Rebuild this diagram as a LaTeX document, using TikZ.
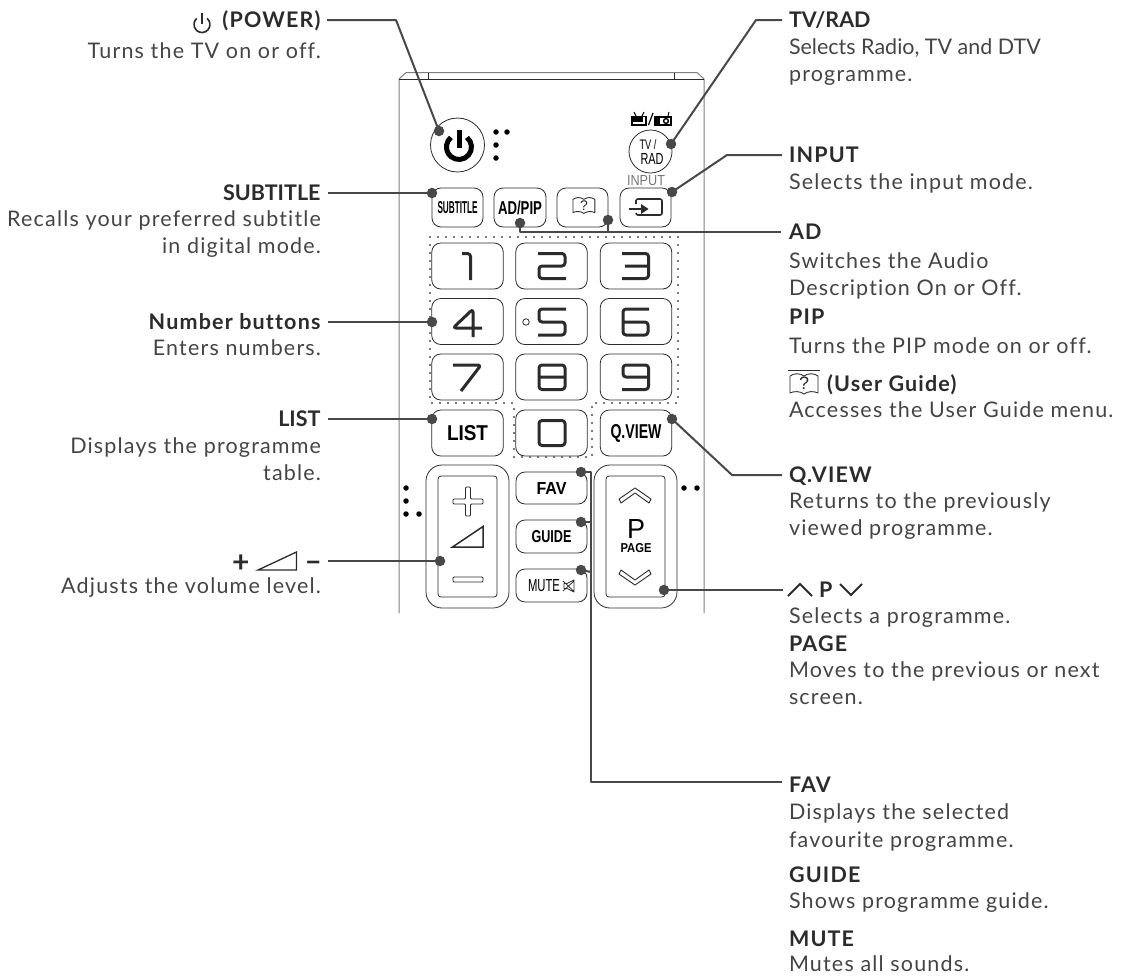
\documentclass[tikz,border=0pt]{standalone}
\usepackage{fontspec}
\setmainfont{Lato}[LetterSpace=5.5,Ligatures=NoCommon]
\newfontfamily\keyf{Liberation Sans}
\definecolor{ink}{HTML}{2B2B2B}
\definecolor{txt}{HTML}{444444}
\definecolor{lead}{HTML}{484848}
\definecolor{bodyl}{HTML}{808080}
\definecolor{inp}{HTML}{777777}
\newcommand{\kb}[3]{\resizebox{#1pt}{#2pt}{\keyf\bfseries #3}}
\newcommand{\kr}[3]{\resizebox{#1pt}{#2pt}{\keyf #3}}
\newcommand{\tight}{\addfontfeature{LetterSpace=0}}
\newcommand{\bookat}[5]{\begin{scope}[shift={(#1,#2)},scale=#3]
 \draw[line width=.9pt,ink,line join=round] (0,3)..controls (4,0) and (10,0)..(14,3)..controls (18,0) and (24,0)..(28,3)--(28,20)..controls (24,18) and (18,18)..(14,21)..controls (10,18) and (4,18)..(0,20)--cycle;
 \node[font=\fontsize{#4}{#4}\selectfont\keyf,text=ink] (#5) at (14,10.5) {?};
 \end{scope}}
\begin{document}
\begin{tikzpicture}[x=1pt,y=-1pt,
 every node/.style={inner sep=0,outer sep=0},
 btn/.style={draw=ink,line width=.8pt,rounded corners=9pt},
 bodyline/.style={draw=bodyl,line width=1pt},
 thin body/.style={draw=ink,line width=.8pt},
 leader/.style={draw=lead,line width=2pt},
 pin/.style={circle,fill=lead,minimum size=10.5pt},
 blk/.style={circle,fill=black,minimum size=5.5pt},
 title/.style={anchor=base,font=\fontsize{21.5}{27}\selectfont\bfseries,text=ink},
 desc/.style={anchor=base,font=\fontsize{21.5}{27}\selectfont,text=txt},
 rgt/.style={anchor=base west},
 lft/.style={anchor=base east},
 digit/.style={draw=ink,line width=3pt,line join=round,rounded corners=3pt},
 dotb/.style={draw=ink!85,line width=2.4pt,line cap=round,dash pattern=on 0pt off 8pt},
 numkey/.style={btn,minimum width=71.5pt,minimum height=46pt},
 outerkey/.style={btn,rounded corners=16pt,minimum width=83pt,minimum height=143pt},
 innerkey/.style={btn,rounded corners=3pt,minimum width=59pt,minimum height=121pt}]
\useasboundingbox (0,0) rectangle (1132,975);
% body of the remote
\draw[bodyline] (399,613)--(399,79)--(406,72.5)--(697,72.5)--(704,79)--(704,613);
\draw[thin body] (399,79)--(704,79) (428,73)--(428,80) (674,73)--(674,80);
% power
\node[circle,draw=ink,line width=.8pt,minimum size=54pt] (power) at (457.5,145) {};
\draw[line width=5pt,black] (467,137.4) arc[start angle=50,end angle=-230,radius=12.5pt];
\draw[line width=5pt,black] (459,130)--(459,148);
\foreach \n/\p in {a/{496,132},b/{507,132},c/{496,145},d/{496,158},e/{406,488},f/{406,501},g/{406,514},h/{419,514},i/{684,488},j/{697,488}}
  \node[blk] (k\n) at (\p) {};
% tv rad
\node[circle,draw=ink,line width=.8pt,minimum size=43pt] (tvrad) at (650.5,151.5) {};
\node (tvt) at (648,145) {\kr{17}{10}{TV /}};
\node (radt) at (652,159) {\kr{23}{11}{RAD}};
\draw[line width=1.9pt,black] (632,116.5) rectangle (646,125);
\fill[black] (632,116) rectangle (643,122);
\draw[line width=1pt,black] (636,116)--(634,112) (642,116)--(644,112);
\draw[line width=1.2pt,black] (648.5,125)--(653,113);
\draw[line width=1.9pt,black] (655,117) rectangle (671,125);
\fill[black] (655,117) rectangle (660,125);
\draw[line width=1.4pt,black] (666,121) circle[radius=2.4pt];
\draw[line width=1pt,black] (668,116)--(669,112);
% row of four
\node[btn,minimum width=51pt,minimum height=39pt] (subtitle) at (457.5,207.5) {\kb{40}{12}{SUBTITLE}};
\node[btn,minimum width=52pt,minimum height=39pt] (adpip) at (520,207.5) {\kb{44}{13.5}{AD/PIP}};
\node[btn,minimum width=51pt,minimum height=39pt] (guidebtn) at (582.5,207.5) {};
\bookat{573}{197}{.78}{14}{bookq}
\node[btn,minimum width=51pt,minimum height=39pt] (input) at (645.5,207.5) {};
\node (inputlab) at (646,181) {\resizebox{38pt}{10pt}{\keyf\textcolor{inp}{INPUT}}};
\draw[line width=1.6pt,ink,rounded corners=2pt] (636,204)--(636,199)--(662,199)--(662,215)--(636,215)--(636,213);
\draw[line width=2pt,ink] (629,209)--(642,209);
\fill[ink] (648.5,209)--(641,204)--(641,214)--cycle;
% digits
\foreach \n/\x/\y in {1/467.5/266,2/551.5/266,3/636/266,4/467.5/321.5,5/551.5/321.5,6/636/321.5,7/467.5/377,8/551.5/377,9/636/377}
  \node[numkey] (n\n) at (\x,\y) {};
\node[numkey] (n0) at (551.5,433) {};
\node[numkey] (list) at (467.5,433) {\kb{41}{15}{LIST}};
\node[numkey] (qview) at (636,433) {\kb{51}{14}{Q.VIEW}};
\draw[digit] (462,253.5)--(470.5,253.5)--(470.5,280);
\draw[digit] (538,253.5)--(565,253.5)--(565,266)--(539,266)--(539,278.5)--(566,278.5);
\draw[digit] (622,253.5)--(648.5,253.5)--(648.5,278.5)--(622,278.5) (625,266)--(648.5,266);
\draw[digit] (473,337)--(473,309)--(453,328)--(482,328);
\draw[digit] (566,309)--(539,309)--(539,322)--(565,322)--(565,335)--(538,335);
\draw[digit] (649,309)--(623,309)--(623,335)--(648,335)--(648,322)--(623,322);
\draw[digit] (453,365)--(481,365)--(461,391);
\draw[digit] (539,365)--(565,365)--(565,389.5)--(539,389.5)--cycle (539,377)--(565,377);
\draw[digit] (649,377)--(623,377)--(623,365)--(648.5,365)--(648.5,389.5)--(622,389.5);
\draw[digit] (539,420.5)--(565,420.5)--(565,445.5)--(539,445.5)--cycle;
\node[circle,draw=ink,line width=.8pt,minimum size=6.5pt] (hole) at (526,322) {};
% dotted outline
\draw[dotb] (430,237)--(678,237)--(678,403)--(592,403)--(592,457)--(514,457)--(514,403)--(430,403)--cycle;
% volume
\node[outerkey] (volout) at (467.5,536.5) {};
\node[innerkey] (volin) at (467.5,536.5) {};
\draw[line width=.9pt,ink,rounded corners=1pt] (465.5,487)--(470.5,487)--(470.5,499)--(483,499)--(483,504)--(470.5,504)--(470.5,516)--(465.5,516)--(465.5,504)--(453,504)--(453,499)--(465.5,499)--cycle;
\draw[line width=1.5pt,ink,line join=miter] (452.5,547)--(483,547)--(483,526.5)--cycle;
\draw[line width=.9pt,ink,rounded corners=1pt] (453,577)--(483,577)--(483,582)--(453,582)--cycle;
% centre keys
\node[btn,minimum width=71pt,minimum height=32pt] (fav) at (551.5,488) {\kb{30}{12}{FAV}};
\node[btn,minimum width=71pt,minimum height=33pt] (guide) at (551.5,536.5) {\kb{40}{12}{GUIDE}};
\node[btn,minimum width=71pt,minimum height=33pt] (mute) at (551.5,585.5) {};
\node (mutelab) at (544,586) {\kr{32}{12}{MUTE}};
\draw[line width=.8pt,ink,line join=round] (564,583.5)--(567,583.5)--(574,580)--(574,592)--(567,588.5)--(564,588.5)--cycle (563,581)--(574,591.5) (563,591)--(574,581);
% programme
\node[outerkey] (prout) at (635.5,536.5) {};
\node[innerkey] (prin) at (635.5,536.5) {};
\draw[line width=.9pt,ink,line join=round] (619,499)--(635,488)--(651,499)--(649,503)--(635,493)--(621,503)--cycle;
\draw[line width=.9pt,ink,line join=round] (619,574)--(635,585)--(651,574)--(649,570)--(635,580)--(621,570)--cycle;
\node (plet) at (636,529) {\kr{18}{19}{P}};
\node (page) at (636,548) {\kb{31}{9}{PAGE}};
% pins
\foreach \n/\p in {power/{439,131},tv/{671,144},sub/{432,193},inp/{672,192},ad/{520,223},bk/{608,220},num/{432,322},lst/{432,419},qv/{672,419},vol/{440,561},pr/{664,590},fv/{581,472},gd/{581,522},mt/{581,570}}
  \node[pin] (p\n) at (\p) {};
% left labels
\node[title,lft] (Lpower) at (320.5,27) {(POWER)};
\draw[line width=1.6pt,ink] (207.1,18.4) arc[start angle=50,end angle=-230,radius=8pt];
\draw[line width=1.6pt,ink] (202,13)--(202,24);
\node[desc,lft] at (321,58) {Turns the TV on or off.};
\node[title,lft] (Lsub) at (320.5,200) {\tight SUBTITLE};
\node[desc,lft] at (321,226) {Recalls your preferred subtitle};
\node[desc,lft] at (321,253) {in digital mode.};
\node[title,lft] (Lnum) at (320.5,329) {Number buttons};
\node[desc,lft] at (321,355) {Enters numbers.};
\node[title,lft] (Llist) at (320.5,426) {\tight LIST};
\node[desc,lft] at (321,453) {Displays the programme};
\node[desc,lft] at (321,480) {table.};
\node[desc,lft] at (321,593) {Adjusts the volume level.};
\node[anchor=base east,font=\fontsize{30}{30}\selectfont\bfseries,text=ink] (Lminus) at (322,571) {–};
\draw[line width=1.3pt,ink] (258,570)--(296.5,570)--(296.5,552)--cycle;
\node[anchor=base east,font=\fontsize{30}{30}\selectfont\bfseries,text=ink] (Lplus) at (249.5,572) {+};
% right labels
\node[title,rgt] (Rtv) at (789,27) {\tight TV/RAD};
\node[desc,rgt] at (789,54) {\tight Selects Radio, TV and DTV};
\node[desc,rgt] at (789,81) {programme.};
\node[title,rgt] (Rinp) at (789,162) {INPUT};
\node[desc,rgt] at (789,189) {Selects the input mode.};
\node[title,rgt] (Rad) at (789,239) {AD};
\node[desc,rgt] at (789,268) {Switches the Audio};
\node[desc,rgt] at (789,295) {Description On or Off.};
\node[title,rgt] (Rpip) at (789,324) {PIP};
\node[desc,rgt] at (789,353) {Turns the PIP mode on or off.};
\node[title,rgt] (Rug) at (827,391) {(User Guide)};
\bookat{790}{373}{1}{18}{booklab}
\draw[line width=.8pt,ink] (788,370.5)--(820,370.5);
\node[desc,rgt] at (789,417) {Accesses the User Guide menu.};
\node[title,rgt] (Rqv) at (789,482) {Q.VIEW};
\node[desc,rgt] at (789,508) {Returns to the previously};
\node[desc,rgt] at (789,535) {viewed programme.};
\node[title,rgt] (Rp) at (819,597) {P};
\draw[line width=2pt,ink] (788,596)--(800,584)--(812,596) (840,584)--(851,595)--(862,584);
\node[desc,rgt] at (789,623) {Selects a programme.};
\node[title,rgt] (Rpage) at (789,651) {PAGE};
\node[desc,rgt] at (789,677) {Moves to the previous or next};
\node[desc,rgt] at (789,704) {screen.};
\node[title,rgt] (Rfav) at (789,792) {FAV};
\node[desc,rgt] at (789,819) {Displays the selected};
\node[desc,rgt] at (789,847) {favourite programme.};
\node[title,rgt] (Rguide) at (789,882) {GUIDE};
\node[desc,rgt] at (789,908) {Shows programme guide.};
\node[title,rgt] (Rmute) at (789,946) {MUTE};
\node[desc,rgt] at (789,971) {Mutes all sounds.};
% leaders
\coordinate (ePower) at (327,20);
\coordinate (eTv) at (782,20);
\coordinate (eSub) at (328,193);
\coordinate (eInp) at (782,155);
\coordinate (eAd) at (781,232);
\coordinate (eNum) at (328,322);
\coordinate (eLst) at (328,419);
\coordinate (eQv) at (782,475);
\coordinate (eVol) at (328,561);
\coordinate (ePr) at (783,590);
\coordinate (eFv) at (782,782);
\draw[leader,line join=round] (ppower.center)--(396,20)--(ePower);
\draw[leader,line join=round] (ptv.center)--(756,20)--(eTv);
\draw[leader] (psub.center)--(eSub);
\draw[leader,line join=round] (pinp.center)--(727,155)--(eInp);
\draw[leader,line join=round] (pad.center)--(520,232)--(eAd);
\draw[leader] (pbk.center)--(608,232);
\draw[leader] (pnum.center)--(eNum);
\draw[leader] (plst.center)--(eLst);
\draw[leader,line join=round] (pqv.center)--(732,475)--(eQv);
\draw[leader] (pvol.center)--(eVol);
\draw[leader] (ppr.center)--(ePr);
\draw[leader,line join=round] (pfv.center)--(591,472)--(591,782)--(eFv);
\draw[leader] (pgd.center)--(591,522);
\draw[leader] (pmt.center)--(591,572);
\end{tikzpicture}
\end{document}
